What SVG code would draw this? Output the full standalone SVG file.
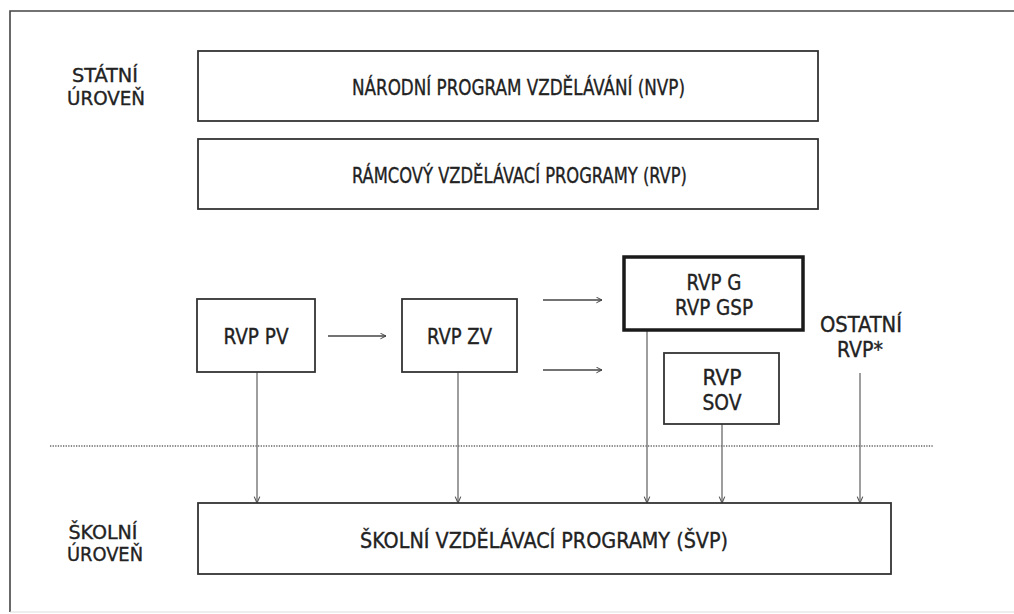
<svg xmlns="http://www.w3.org/2000/svg" width="1014" height="614" viewBox="0 0 1014 614">
<defs>
<style>
.box{fill:#fff;stroke:#333;stroke-width:1.8}
.thick{fill:#fff;stroke:#1a1a1a;stroke-width:3.5}
.t{font-family:"DejaVu Sans Condensed","DejaVu Sans","Liberation Sans",sans-serif;font-stretch:condensed;fill:#222;stroke:#222;stroke-width:0.35;text-anchor:middle}
.big{font-size:22px}
.med{font-size:20px}
.conn{stroke:#6a6a6a;stroke-width:1.3;fill:none}
.harr{stroke:#444;stroke-width:1.3;fill:none}
</style>
<marker id="ah" viewBox="0 0 10 10" refX="9" refY="5" markerWidth="7" markerHeight="7" orient="auto" markerUnits="userSpaceOnUse">
<path d="M1,1 L9,5 L1,9" fill="none" stroke="#444" stroke-width="1.4"/>
</marker>
<marker id="av" viewBox="0 0 10 10" refX="9" refY="5" markerWidth="8" markerHeight="8" orient="auto" markerUnits="userSpaceOnUse">
<path d="M1,1.5 L9,5 L1,8.5" fill="none" stroke="#555" stroke-width="1.4"/>
</marker>
</defs>
<rect width="1014" height="614" fill="#fff"/>
<g id="frame">
<path d="M10,612 L10,11 L1014,11" fill="none" stroke="#444" stroke-width="1.6"/>
<line x1="10" y1="612" x2="1014" y2="612" stroke="#ddd" stroke-width="1"/>
</g>
<g id="level-labels">
<text class="t med" x="105" y="82" textLength="66" lengthAdjust="spacingAndGlyphs">STÁTNÍ</text>
<text class="t med" x="106" y="105" textLength="78" lengthAdjust="spacingAndGlyphs">ÚROVEŇ</text>
<text class="t med" x="103" y="539" textLength="69" lengthAdjust="spacingAndGlyphs">ŠKOLNÍ</text>
<text class="t med" x="105" y="561" textLength="76" lengthAdjust="spacingAndGlyphs">ÚROVEŇ</text>
</g>
<g id="divider">
<line x1="50" y1="446" x2="933" y2="446" stroke="#666" stroke-width="1.5" stroke-dasharray="1.3 1.3"/>
</g>
<g id="connectors">
<line class="harr" x1="328" y1="336" x2="386" y2="336" marker-end="url(#ah)"/>
<line class="harr" x1="543" y1="300" x2="602" y2="300" marker-end="url(#ah)"/>
<line class="harr" x1="543" y1="370" x2="602" y2="370" marker-end="url(#ah)"/>
<line class="conn" x1="257" y1="372" x2="257" y2="503" marker-end="url(#av)"/>
<line class="conn" x1="458" y1="372" x2="458" y2="503" marker-end="url(#av)"/>
<line class="conn" x1="647" y1="331" x2="647" y2="503" marker-end="url(#av)"/>
<line class="conn" x1="722" y1="424" x2="722" y2="503" marker-end="url(#av)"/>
<line class="conn" x1="860" y1="373" x2="860" y2="503" marker-end="url(#av)"/>
</g>
<g id="nvp">
<rect class="box" x="198" y="51" width="620" height="70"/>
<text class="t big" x="518.5" y="95" textLength="333" lengthAdjust="spacingAndGlyphs">NÁRODNÍ PROGRAM VZDĚLÁVÁNÍ (NVP)</text>
</g>
<g id="rvp">
<rect class="box" x="198" y="139" width="620" height="70"/>
<text class="t big" x="519.5" y="183" textLength="335" lengthAdjust="spacingAndGlyphs">RÁMCOVÝ VZDĚLÁVACÍ PROGRAMY (RVP)</text>
</g>
<g id="rvp-pv">
<rect class="box" x="197" y="299" width="118" height="73"/>
<text class="t big" x="256" y="344" textLength="65" lengthAdjust="spacingAndGlyphs">RVP PV</text>
</g>
<g id="rvp-zv">
<rect class="box" x="402" y="299" width="115" height="73"/>
<text class="t big" x="459.5" y="344" textLength="65" lengthAdjust="spacingAndGlyphs">RVP ZV</text>
</g>
<g id="rvp-g">
<rect class="thick" x="624" y="257" width="179" height="73"/>
<text class="t big" x="714" y="290" textLength="55" lengthAdjust="spacingAndGlyphs">RVP G</text>
<text class="t big" x="714" y="315" textLength="78" lengthAdjust="spacingAndGlyphs">RVP GSP</text>
</g>
<g id="rvp-sov">
<rect class="box" x="664" y="353" width="115" height="71"/>
<text class="t big" x="722" y="385" textLength="39" lengthAdjust="spacingAndGlyphs">RVP</text>
<text class="t big" x="722" y="410" textLength="39" lengthAdjust="spacingAndGlyphs">SOV</text>
</g>
<g id="ostatni">
<text class="t big" x="861" y="332" textLength="82" lengthAdjust="spacingAndGlyphs">OSTATNÍ</text>
<text class="t big" x="860" y="357" textLength="46" lengthAdjust="spacingAndGlyphs">RVP*</text>
</g>
<g id="svp">
<rect class="box" x="198" y="503" width="693" height="71"/>
<text class="t big" x="544" y="548" textLength="368" lengthAdjust="spacingAndGlyphs">ŠKOLNÍ VZDĚLÁVACÍ PROGRAMY (ŠVP)</text>
</g>
</svg>
